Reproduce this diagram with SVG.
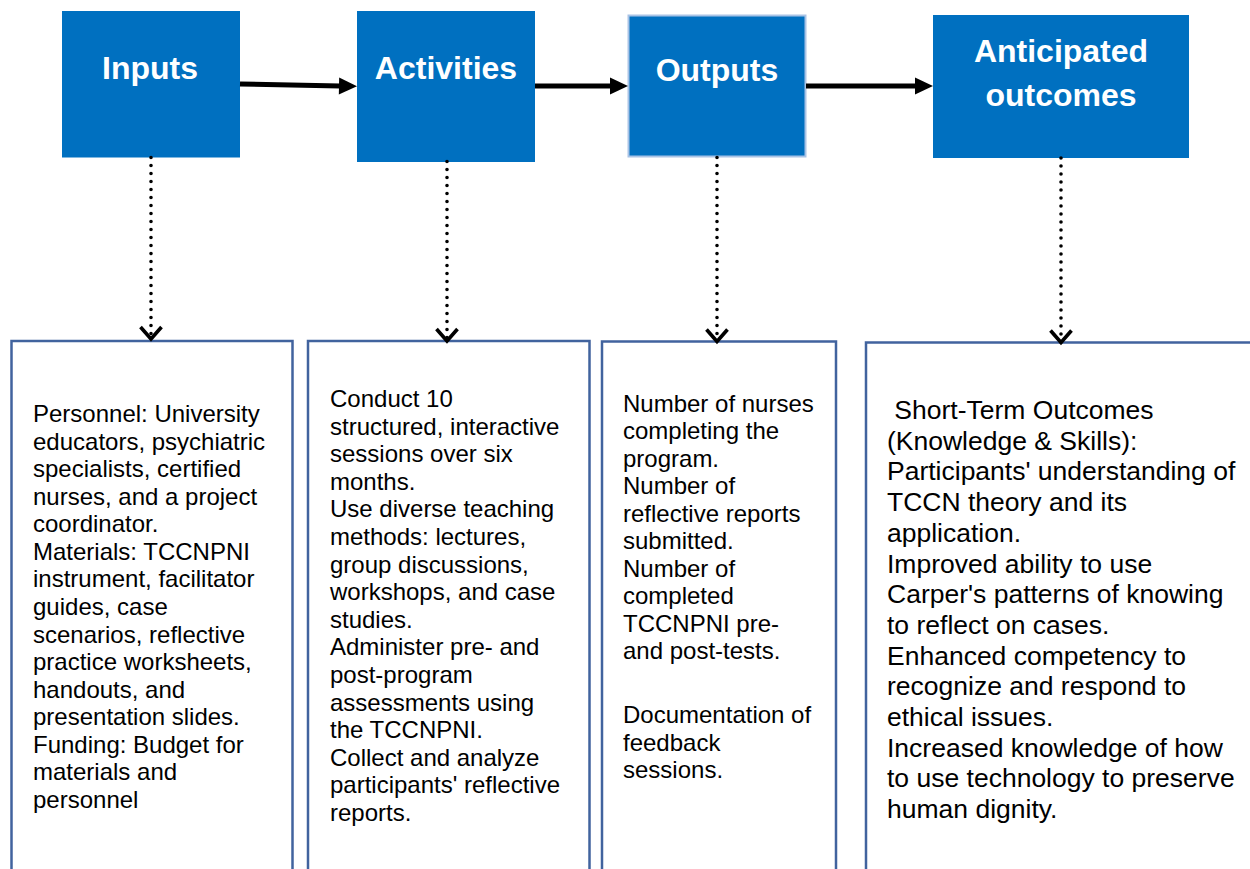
<svg xmlns="http://www.w3.org/2000/svg" width="1250" height="869" viewBox="0 0 1250 869">
<style>
.hdr{fill:#0070C0;}
.hdrText{font-family:"Liberation Sans",Arial,sans-serif;font-weight:bold;font-size:32px;fill:#ffffff;text-anchor:middle;}
.panel{fill:#ffffff;stroke:#41639e;stroke-width:2.5;}
.body{font-family:"Liberation Sans",Arial,sans-serif;font-size:24px;fill:#000000;}
.body4{font-family:"Liberation Sans",Arial,sans-serif;font-size:26.5px;fill:#000000;}
.flow{fill:none;stroke:#000000;stroke-width:5;}
.dots{fill:none;stroke:#000000;stroke-width:3.6;stroke-linecap:round;stroke-dasharray:0 8;}
</style>
<defs>
<marker id="solidHead" markerUnits="userSpaceOnUse" markerWidth="20" markerHeight="20" refX="1" refY="8.5" orient="auto" overflow="visible">
<path d="M0,0 L18,8.5 L0,17 Z" fill="#000000"/>
</marker>
<marker id="chev" markerUnits="userSpaceOnUse" markerWidth="30" markerHeight="30" refX="0" refY="0" orient="auto" overflow="visible">
<path d="M-12,-10.5 L0,0 L-12,10.5" fill="none" stroke="#000000" stroke-width="3.6"/>
</marker>
</defs>
<rect width="1250" height="869" fill="#ffffff"/>

<g id="inputs">
<rect class="hdr" x="62" y="11" width="178" height="146.5"/>
<text class="hdrText" x="150" y="79">Inputs</text>
</g>
<g id="activities">
<rect class="hdr" x="357" y="11" width="178" height="151"/>
<text class="hdrText" x="446" y="79">Activities</text>
</g>
<g id="outputs">
<rect class="hdr" x="628.5" y="15.5" width="177" height="141" stroke="#a9c3e6" stroke-width="2"/>
<text class="hdrText" x="717" y="81">Outputs</text>
</g>
<g id="outcomes">
<rect class="hdr" x="933" y="15" width="256" height="143"/>
<text class="hdrText" x="1061" y="62">Anticipated</text>
<text class="hdrText" x="1061" y="106">outcomes</text>
</g>

<g id="inputs-detail">
<rect class="panel" x="11.5" y="341" width="281" height="600"/>
<text class="body" x="33" y="422">
<tspan x="33" dy="0">Personnel: University</tspan>
<tspan x="33" dy="27.57">educators, psychiatric</tspan>
<tspan x="33" dy="27.57">specialists, certified</tspan>
<tspan x="33" dy="27.57">nurses, and a project</tspan>
<tspan x="33" dy="27.57">coordinator.</tspan>
<tspan x="33" dy="27.57">Materials: TCCNPNI</tspan>
<tspan x="33" dy="27.57">instrument, facilitator</tspan>
<tspan x="33" dy="27.57">guides, case</tspan>
<tspan x="33" dy="27.57">scenarios, reflective</tspan>
<tspan x="33" dy="27.57">practice worksheets,</tspan>
<tspan x="33" dy="27.57">handouts, and</tspan>
<tspan x="33" dy="27.57">presentation slides.</tspan>
<tspan x="33" dy="27.57">Funding: Budget for</tspan>
<tspan x="33" dy="27.57">materials and</tspan>
<tspan x="33" dy="27.57">personnel</tspan>
</text>
</g>

<g id="activities-detail">
<rect class="panel" x="308" y="341" width="281.5" height="600"/>
<text class="body" x="330" y="407">
<tspan x="330" dy="0">Conduct 10</tspan>
<tspan x="330" dy="27.6">structured, interactive</tspan>
<tspan x="330" dy="27.6">sessions over six</tspan>
<tspan x="330" dy="27.6">months.</tspan>
<tspan x="330" dy="27.6">Use diverse teaching</tspan>
<tspan x="330" dy="27.6">methods: lectures,</tspan>
<tspan x="330" dy="27.6">group discussions,</tspan>
<tspan x="330" dy="27.6">workshops, and case</tspan>
<tspan x="330" dy="27.6">studies.</tspan>
<tspan x="330" dy="27.6">Administer pre- and</tspan>
<tspan x="330" dy="27.6">post-program</tspan>
<tspan x="330" dy="27.6">assessments using</tspan>
<tspan x="330" dy="27.6">the TCCNPNI.</tspan>
<tspan x="330" dy="27.6">Collect and analyze</tspan>
<tspan x="330" dy="27.6">participants' reflective</tspan>
<tspan x="330" dy="27.6">reports.</tspan>
</text>
</g>

<g id="outputs-detail">
<rect class="panel" x="602" y="341.5" width="234" height="600"/>
<text class="body" x="623" y="411.5">
<tspan x="623" dy="0">Number of nurses</tspan>
<tspan x="623" dy="27.5">completing the</tspan>
<tspan x="623" dy="27.5">program.</tspan>
<tspan x="623" dy="27.5">Number of</tspan>
<tspan x="623" dy="27.5">reflective reports</tspan>
<tspan x="623" dy="27.5">submitted.</tspan>
<tspan x="623" dy="27.5">Number of</tspan>
<tspan x="623" dy="27.5">completed</tspan>
<tspan x="623" dy="27.5">TCCNPNI pre-</tspan>
<tspan x="623" dy="27.5">and post-tests.</tspan>
<tspan x="623" dy="64">Documentation of</tspan>
<tspan x="623" dy="27.5">feedback</tspan>
<tspan x="623" dy="27.5">sessions.</tspan>
</text>
</g>

<g id="outcomes-detail">
<rect class="panel" x="866" y="342.5" width="420" height="600"/>
<text class="body4" x="887" y="419">
<tspan x="887" dy="0" xml:space="preserve"> Short-Term Outcomes</tspan>
<tspan x="887" dy="30.7">(Knowledge &amp; Skills):</tspan>
<tspan x="887" dy="30.7">Participants' understanding of</tspan>
<tspan x="887" dy="30.7">TCCN theory and its</tspan>
<tspan x="887" dy="30.7">application.</tspan>
<tspan x="887" dy="30.7">Improved ability to use</tspan>
<tspan x="887" dy="30.7">Carper's patterns of knowing</tspan>
<tspan x="887" dy="30.7">to reflect on cases.</tspan>
<tspan x="887" dy="30.7">Enhanced competency to</tspan>
<tspan x="887" dy="30.7">recognize and respond to</tspan>
<tspan x="887" dy="30.7">ethical issues.</tspan>
<tspan x="887" dy="30.7">Increased knowledge of how</tspan>
<tspan x="887" dy="30.7">to use technology to preserve</tspan>
<tspan x="887" dy="30.7">human dignity.</tspan>
</text>
</g>

<g id="connectors">
<path class="flow" d="M240,84 L340,86" marker-end="url(#solidHead)"/>
<path class="flow" d="M535,86 L611,86" marker-end="url(#solidHead)"/>
<path class="flow" d="M806,86 L916,86" marker-end="url(#solidHead)"/>
<path class="dots" d="M151,157.5 L151,339" marker-end="url(#chev)"/>
<path class="dots" d="M447,161.5 L447,341" marker-end="url(#chev)"/>
<path class="dots" d="M717,157.5 L717,341.5" marker-end="url(#chev)"/>
<path class="dots" d="M1061,158 L1061,342.5" marker-end="url(#chev)"/>
</g>
</svg>
